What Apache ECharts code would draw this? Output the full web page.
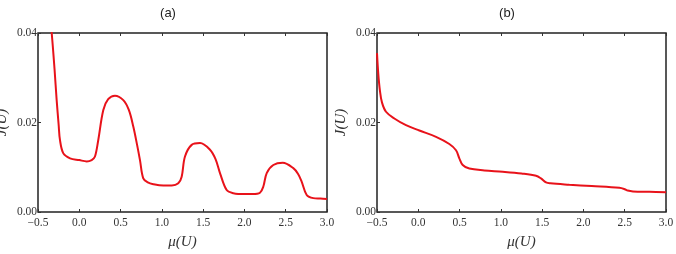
<!DOCTYPE html>
<html>
<head>
<meta charset="utf-8">
<script src="https://cdn.jsdelivr.net/npm/echarts@6/dist/echarts.min.js"></script>
<style>
  html, body { margin: 0; padding: 0; background: #fff; }
  #chart { width: 676px; height: 254px; }
</style>
</head>
<body>
<div id="chart"></div>
<script>
// panel (a): J(U) against mu(U)
const muA = [-0.35, -0.334, -0.30, -0.274, -0.25, -0.234, -0.193, -0.112, 0.0, 0.09, 0.15, 0.19, 0.23, 0.291, 0.35, 0.432, 0.533, 0.60, 0.654, 0.70, 0.735, 0.775, 0.83, 0.896, 1.018, 1.12, 1.199, 1.24, 1.28, 1.361, 1.462, 1.583, 1.65, 1.704, 1.785, 1.865, 2.007, 2.10, 2.188, 2.229, 2.27, 2.35, 2.464, 2.592, 2.65, 2.693, 2.754, 2.834, 2.92, 3.0];
const jA = [0.0425, 0.040, 0.032, 0.025, 0.0195, 0.0161, 0.0131, 0.0120, 0.0116, 0.0113, 0.0116, 0.0124, 0.0161, 0.0228, 0.0252, 0.0260, 0.0250, 0.0228, 0.0191, 0.0150, 0.0116, 0.0075, 0.0066, 0.0062, 0.0059, 0.0059, 0.0064, 0.0079, 0.0124, 0.0150, 0.0154, 0.0139, 0.0118, 0.0087, 0.0049, 0.0042, 0.0040, 0.0040, 0.0043, 0.0057, 0.0087, 0.0105, 0.0110, 0.0098, 0.0085, 0.0068, 0.0038, 0.0031, 0.0030, 0.0029];

// panel (b)
const muB = [-0.5, -0.485, -0.465, -0.44, -0.391, -0.29, -0.149, 0.013, 0.215, 0.376, 0.457, 0.497, 0.538, 0.618, 0.80, 1.022, 1.25, 1.426, 1.486, 1.547, 1.60, 1.829, 2.10, 2.435, 2.50, 2.536, 2.60, 2.80, 3.0];
const jB = [0.0355, 0.0310, 0.0272, 0.0245, 0.0224, 0.0209, 0.0194, 0.0182, 0.0168, 0.0152, 0.0138, 0.0120, 0.0105, 0.0097, 0.0093, 0.0090, 0.0086, 0.0081, 0.0075, 0.0066, 0.0064, 0.0061, 0.0058, 0.0054, 0.0051, 0.0048, 0.0046, 0.0045, 0.0044];

const xTicks = [-0.5, 0.0, 0.5, 1.0, 1.5, 2.0, 2.5, 3.0];
const yTicks = [0.00, 0.02, 0.04];
const titles = ['(a)', '(b)'];

const serif = '"Liberation Serif", "DejaVu Serif", serif';
const ink = '#333';

function xAxisFor(grid, top) {
  return {
    type: 'value', gridIndex: grid,
    min: xTicks[0], max: xTicks[xTicks.length - 1], interval: 0.5,
    position: top ? 'top' : 'bottom',
    name: top ? '' : 'μ(U)',
    nameLocation: 'middle', nameGap: 23,
    nameTextStyle: { fontFamily: serif, fontStyle: 'italic', fontSize: 15, color: ink },
    axisLine: { show: false, onZero: false },
    axisTick: { show: true, inside: true, length: 3, lineStyle: { color: ink, width: 1 } },
    axisLabel: {
      show: !top, fontFamily: serif, fontSize: 11.5, color: ink, margin: 5,
      formatter: (v) => v.toFixed(1).replace('-', '−')
    },
    splitLine: { show: false }
  };
}

function yAxisFor(grid) {
  return {
    type: 'value', gridIndex: grid,
    min: yTicks[0], max: yTicks[yTicks.length - 1], interval: 0.02,
    position: 'left',
    name: 'J(U)',
    nameLocation: 'middle', nameGap: 28,
    nameTextStyle: { fontFamily: serif, fontStyle: 'italic', fontSize: 15, color: ink },
    axisLine: { show: false, onZero: false },
    axisTick: { show: true, inside: true, length: 3, lineStyle: { color: ink, width: 1 } },
    axisLabel: {
      fontFamily: serif, fontSize: 11.5, color: ink, margin: 1,
      formatter: (v) => v.toFixed(2)
    },
    splitLine: { show: false }
  };
}

const titleFont = { fontFamily: 'Arial, "Liberation Sans", sans-serif', fontWeight: 'normal', fontSize: 13, color: '#222' };

const chart = echarts.init(document.getElementById('chart'), null, { renderer: 'canvas' });
chart.setOption({
  animation: false,
  backgroundColor: '#fff',
  title: [
    { text: titles[0], left: 163, top: 2, textAlign: 'center', textStyle: titleFont },
    { text: titles[1], left: 502, top: 2, textAlign: 'center', textStyle: titleFont }
  ],
  grid: [
    { left: 38, right: 349, top: 33, bottom: 42, outerBoundsMode: 'none', containLabel: false,
      show: true, borderColor: '#222', borderWidth: 1.5, backgroundColor: 'transparent' },
    { left: 377, right: 10, top: 33, bottom: 42, outerBoundsMode: 'none', containLabel: false,
      show: true, borderColor: '#222', borderWidth: 1.5, backgroundColor: 'transparent' }
  ],
  xAxis: [xAxisFor(0, false), xAxisFor(0, true), xAxisFor(1, false), xAxisFor(1, true)],
  yAxis: [yAxisFor(0), yAxisFor(1)],
  series: [
    {
      type: 'line', xAxisIndex: 0, yAxisIndex: 0, smooth: 0.35, symbol: 'none', clip: true,
      lineStyle: { color: '#e8121a', width: 2 },
      data: muA.map((m, i) => [m, jA[i]])
    },
    {
      type: 'line', xAxisIndex: 2, yAxisIndex: 1, smooth: 0.35, symbol: 'none', clip: true,
      lineStyle: { color: '#e8121a', width: 2 },
      data: muB.map((m, i) => [m, jB[i]])
    }
  ]
});
</script>
</body>
</html>
